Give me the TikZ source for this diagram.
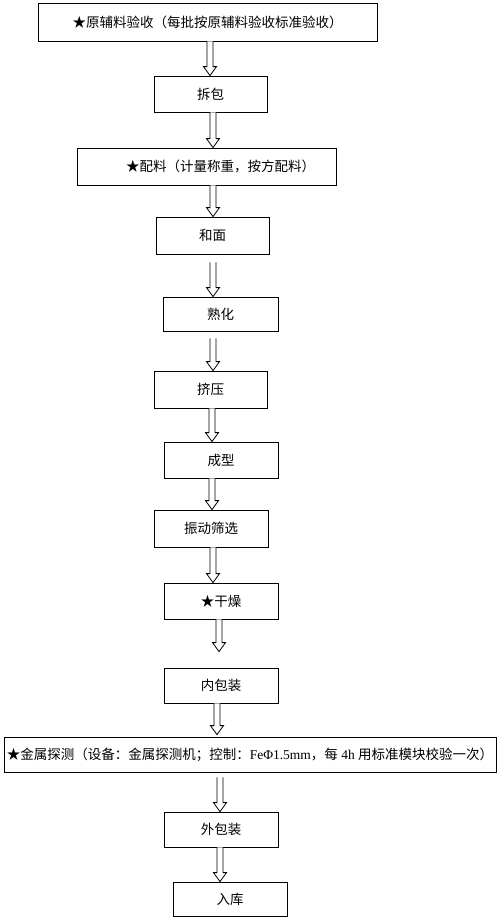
\documentclass[tikz,border=0pt]{standalone}
\usepackage{fontspec}
\setmainfont{Liberation Serif}
\newfontfamily\cjk{Noto Sans CJK SC}
\usetikzlibrary{calc}
\tikzset{
  box/.style={draw=black, line width=0.8pt, rectangle, inner sep=0pt, font=\cjk\fontsize{13.5}{15}\selectfont, text=black},
  flowarr/.style={draw=black, line width=0.8pt, fill=white, line join=miter}
}
\newcommand\flowto[5]{%
  \draw[flowarr] let \p1=(#1.south), \p2=(#2.north) in
    (#3pt-3pt,\y1-#4pt) -- (#3pt-3pt,\y2+#5pt+9pt) -- (#3pt-6.5pt,\y2+#5pt+9pt) --
    (#3pt,\y2+#5pt) -- (#3pt+6.5pt,\y2+#5pt+9pt) -- (#3pt+3pt,\y2+#5pt+9pt) --
    (#3pt+3pt,\y1-#4pt);}
\begin{document}
\begin{tikzpicture}[x=1pt,y=-1pt]
\useasboundingbox[fill=white] (0,0) rectangle (500,921);
\node[box, minimum width=339pt, minimum height=38pt] (n1) at (207.5,22) {★原辅料验收（每批按原辅料验收标准验收）};
\node[box, minimum width=113pt, minimum height=36pt] (n2) at (210.5,94) {拆包};
\node[box, minimum width=259pt, minimum height=37pt] (n3) at (206.5,166.5) {\hspace*{28pt}★配料（计量称重，按方配料）};
\node[box, minimum width=113pt, minimum height=37pt] (n4) at (212.5,235.5) {和面};
\node[box, minimum width=115pt, minimum height=34pt] (n5) at (220.5,314) {熟化};
\node[box, minimum width=113pt, minimum height=37pt] (n6) at (210.5,389.5) {挤压};
\node[box, minimum width=114pt, minimum height=36pt] (n7) at (221,460) {成型};
\node[box, minimum width=114pt, minimum height=37pt] (n8) at (211,528.5) {振动筛选};
\node[box, minimum width=114pt, minimum height=36pt] (n9) at (221,601) {★干燥};
\node[box, minimum width=114pt, minimum height=35pt] (n10) at (221,685.5) {内包装};
\node[box, minimum width=492pt, minimum height=35pt] (n11) at (250,754.5) {★金属探测（设备：金属探测机；控制：{\rmfamily FeΦ1.5mm}，每{\rmfamily\ 4h\ }用标准模块校验一次）};
\node[box, minimum width=114pt, minimum height=35pt] (n12) at (221,829.5) {外包装};
\node[box, minimum width=114pt, minimum height=34pt] (n13) at (230,899) {入库};
\flowto{n1}{n2}{210}{0}{0}
\flowto{n2}{n3}{213}{0}{0}
\flowto{n3}{n4}{213}{0}{0}
\flowto{n4}{n5}{213}{8}{0}
\flowto{n5}{n6}{213}{7}{0}
\flowto{n6}{n7}{212}{0}{0}
\flowto{n7}{n8}{212}{0}{0}
\flowto{n8}{n9}{213}{0}{0}
\flowto{n9}{n10}{219}{0}{16}
\flowto{n10}{n11}{217}{0}{2}
\flowto{n11}{n12}{220}{5}{0}
\flowto{n12}{n13}{220}{0}{0}
\end{tikzpicture}
\end{document}
